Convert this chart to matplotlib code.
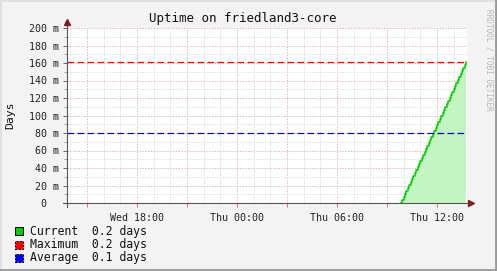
import datetime as dt
import numpy as np
import matplotlib
matplotlib.use("Agg")
import matplotlib.pyplot as plt
import matplotlib.dates as mdates
from matplotlib.lines import Line2D
from matplotlib.patches import Rectangle
from matplotlib.ticker import MultipleLocator, FuncFormatter

# data (uptime in milli-days, 5 minute samples)
window_start = dt.datetime(2015, 1, 7, 13, 48)
window_end = dt.datetime(2015, 1, 8, 13, 48)
sample_start = dt.datetime(2015, 1, 8, 9, 50)
sample_step_min = 5
uptime = [0, 3, 7, 10, 14, 17, 21, 24, 27, 31, 34, 38, 41, 45, 48, 51,
          55, 58, 62, 65, 69, 72, 75, 79, 82, 86, 89, 93, 96, 99, 103, 106,
          110, 113, 117, 120, 123, 127, 130, 134, 137, 141, 144, 147, 151, 154,
          158, 161]
title = "Uptime on friedland3-core"
legend_names = ["Current", "Maximum", "Average"]

times = [sample_start + dt.timedelta(minutes=sample_step_min * i) for i in range(len(uptime))]
vals = np.array(uptime, dtype=float)
cur, vmax, vavg = vals[-1], vals.max(), vals.mean()

plt.rcParams['font.family'] = ['DejaVu Sans Mono']
plt.rcParams['lines.scale_dashes'] = False

W, H = 497, 271
fig = plt.figure(figsize=(W / 100, H / 100), dpi=100, facecolor='#f3f3f3')
ax = fig.add_axes([67 / W, 1 - 203 / H, 400 / W, 175 / H])
ax.set_facecolor('white')

def fx(x, y):
    return (x / W, 1 - y / H)

# grid
ax.set_ylim(0, 200)
ax.set_xlim(window_start, window_end)
ax.yaxis.set_major_locator(MultipleLocator(20))
ax.yaxis.set_minor_locator(MultipleLocator(10))
ax.xaxis.set_major_locator(mdates.HourLocator(byhour=range(0, 24, 3)))
ax.xaxis.set_minor_locator(mdates.HourLocator(interval=1))

def xlab(v, pos):
    d = mdates.num2date(v)
    return d.strftime('%a %H:%M') if d.hour % 6 == 0 else ''

def ylab(v, pos):
    return "0  " if v == 0 else "%d m" % v

ax.xaxis.set_major_formatter(FuncFormatter(xlab))
ax.yaxis.set_major_formatter(FuncFormatter(ylab))
ax.grid(which='minor', color='#d8d8d8', lw=0.6, linestyle=(0, (1, 1)))
ax.grid(which='major', color='#e8a8a8', lw=0.6, linestyle=(0, (1, 1)))
ax.set_axisbelow(True)
for s in ax.spines.values():
    s.set_visible(False)
ax.tick_params(axis='x', which='major', length=3, width=0.7, color='#d07070',
               pad=4, labelsize=7.2, labelcolor='#222222')
ax.tick_params(axis='x', which='minor', length=0)
ax.tick_params(axis='y', which='major', length=3, width=0.7, color='#666666',
               pad=3, labelsize=7.2, labelcolor='#222222')
ax.tick_params(axis='y', which='minor', length=2, width=0.6, color='#999999')

# data
ax.fill_between(times, vals, step='post', color='#c2f5c2', lw=0)
ax.step(times, vals, where='post', color='#00cc00', lw=1.1)
ax.axhline(vmax, color='#ff0000', lw=0.9, dashes=(4.8, 2.4))
ax.axhline(vavg, color='#0000cc', lw=0.9, dashes=(4.8, 2.4))

# axes with arrows
ax.plot([0, 0], [-0.02, 1.035], transform=ax.transAxes, color='#555555', lw=0.8, clip_on=False)
ax.plot([-0.01, 1.01], [0, 0], transform=ax.transAxes, color='#555555', lw=0.8, clip_on=False)
ax.plot([0], [1.035], marker='^', ms=4, color='#802020', transform=ax.transAxes, clip_on=False)
ax.plot([1.01], [0], marker='>', ms=4, color='#802020', transform=ax.transAxes, clip_on=False)

fig.text(*fx(243, 19), title, ha='center', va='center', fontsize=9, color='#111111')
fig.text(*fx(10, 115), "Days", ha='center', va='center', rotation=90, fontsize=8.2, color='#111111')
fig.text(*fx(489, 60), "RRDTOOL / TOBI OETIKER", ha='center', va='center', rotation=270,
         fontsize=5.6, color='#b8b8b8')

# legend
colors = ['#00cc00', '#ff0000', '#0000ff']
styles = ['solid', (0, (1.5, 1)), (0, (1.5, 1))]
amounts = [cur, vmax, vavg]
for i, (name, c, ls, v) in enumerate(zip(legend_names, colors, styles, amounts)):
    y = 231 + 13.5 * i
    x0, y0 = fx(15, y + 4)
    fig.add_artist(Rectangle((x0, y0), 8 / W, 8 / H, transform=fig.transFigure,
                             facecolor=c, edgecolor='black', lw=0.7, linestyle=ls))
    fig.text(*fx(30, y), "%-8s %.1f days" % (name, v / 1000), ha='left', va='center',
             fontsize=8.3, color='#111111')

# border
fig.add_artist(Line2D([0, 1], [1 - 0.5 / H] * 2, transform=fig.transFigure, color='#e0e0e0', lw=1.5))
fig.add_artist(Line2D([0.5 / W] * 2, [0, 1], transform=fig.transFigure, color='#e0e0e0', lw=1.5))
fig.add_artist(Line2D([0, 1], [1.2 / H] * 2, transform=fig.transFigure, color='#9a9a9a', lw=2))
fig.add_artist(Line2D([1 - 1.2 / W] * 2, [0, 1], transform=fig.transFigure, color='#9a9a9a', lw=2))

fig.savefig('out.png', dpi=100, facecolor=fig.get_facecolor())
